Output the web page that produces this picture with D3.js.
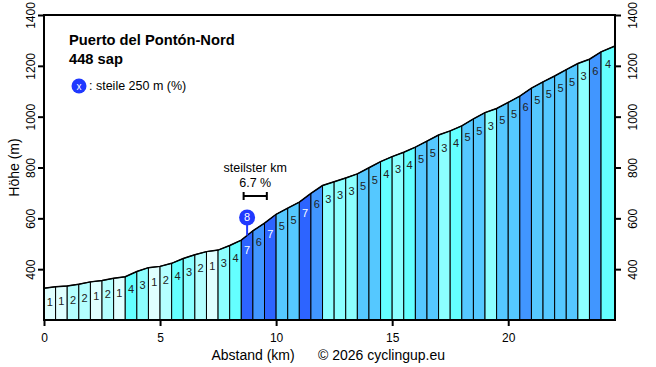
<!DOCTYPE html>
<html>
	<head>
		<meta http-equiv="Content-Type" content="text/html;charset=utf-8"/>
		<title>Puerto del Pontón-Nord</title>
		<script src="https://d3js.org/d3.v7.min.js"></script>
		<style type="text/css">
			body { margin: 0; background: #fff; }
			text { font-family: "Liberation Sans", Arial, sans-serif; }
			.tick text { font-size: 12px; }
			.title { font-size: 14.7px; font-weight: bold; }
		</style>
	</head>
	<body>
		<script type="text/javascript">

			//Distance points (km) and heights (m)
			var kms = [0, 0.5, 1, 1.5, 2, 2.5, 3, 3.5, 4, 4.5, 5, 5.5, 6, 6.5, 7, 7.5, 8, 8.5, 9, 9.5,
				10, 10.5, 11, 11.5, 12, 12.5, 13, 13.5, 14, 14.5, 15, 15.5, 16, 16.5, 17, 17.5, 18, 18.5, 19, 19.5,
				20, 20.5, 21, 21.5, 22, 22.5, 23, 23.5, 24, 24.6];
			var heights = [325, 331, 334, 341, 350, 355, 364, 370, 391, 406, 411, 423, 442, 457, 469, 475, 493, 514, 551, 581,
				616, 640, 664, 698, 729, 744, 759, 775, 799, 823, 843, 860, 880, 904, 928, 944, 964, 991, 1016, 1032,
				1056, 1081, 1112, 1137, 1160, 1185, 1209, 1226, 1255, 1278];

			//Gradient label of each 0.5 km section (%)
			var grades = [1, 1, 2, 2, 1, 2, 1, 4, 3, 1, 2, 4, 3, 2, 1, 3, 4,
				7, 6, 7, 5, 5, 7, 6, 3, 3, 3, 5, 5, 4, 3, 4,
				5, 5, 3, 4, 5, 5, 3, 5, 5, 6, 5, 5, 5, 5, 3, 6, 4];

			var xTicks = [0, 5, 10, 15, 20];
			var yTicks = [400, 600, 800, 1000, 1200, 1400];

			//Steepest km and steepest 250 m
			var steepKm = [8.6, 9.6], steepKmPct = "6.7 %";
			var steep250 = 8.75, steep250Pct = 8;

			var colors = {1: "#e0ffff", 2: "#b4ffff", 3: "#8cffff", 4: "#64ffff", 5: "#55c8ff", 6: "#4196ff", 7: "#2d64ff"};

			var w = 656, h = 367;
			var mLeft = 44, mRight = 615, mTop = 15, mBottom = 320;

			var x = d3.scaleLinear().domain([0, 24.6]).range([mLeft, mRight]);
			var y = d3.scaleLinear().domain([200, 1400]).range([mBottom, mTop]);

			var svg = d3.select("body").append("svg")
				.attr("width", w)
				.attr("height", h);

			//Sections
			var sections = grades.map(function(g, i) {
				return { g: g, x0: kms[i], x1: kms[i + 1], h0: heights[i], h1: heights[i + 1] };
			});

			svg.selectAll("path.sec")
				.data(sections)
				.enter()
				.append("path")
				.attr("class", "sec")
				.attr("fill", function(d) { return colors[d.g]; })
				.attr("stroke", "#000")
				.attr("stroke-width", 1)
				.attr("d", function(d) {
					return "M" + x(d.x0) + "," + mBottom + "L" + x(d.x0) + "," + y(d.h0) +
						"L" + x(d.x1) + "," + y(d.h1) + "L" + x(d.x1) + "," + mBottom + "Z";
				});

			svg.selectAll("text.grade")
				.data(sections)
				.enter()
				.append("text")
				.attr("class", "grade")
				.attr("x", function(d) { return x((d.x0 + d.x1) / 2); })
				.attr("y", function(d) { return y((d.h0 + d.h1) / 2) + 19; })
				.attr("text-anchor", "middle")
				.attr("font-size", "11px")
				.attr("fill", function(d) { return d.g >= 7 ? "#fff" : "#222"; })
				.text(function(d) { return d.g; });

			//Profile line
			var line = d3.line()
				.x(function(d, i) { return x(kms[i]); })
				.y(function(d) { return y(d); });

			svg.append("path")
				.attr("d", line(heights))
				.attr("fill", "none")
				.attr("stroke", "#000")
				.attr("stroke-width", 1.5);

			//Frame and axes
			svg.append("rect")
				.attr("x", mLeft).attr("y", mTop)
				.attr("width", mRight - mLeft).attr("height", mBottom - mTop)
				.attr("fill", "none").attr("stroke", "#000").attr("stroke-width", 2);

			var gx = svg.append("g")
				.attr("transform", "translate(0," + mBottom + ")")
				.call(d3.axisBottom(x).tickValues(xTicks).tickSize(6).tickPadding(7).tickFormat(d3.format("d")));

			var gl = svg.append("g")
				.attr("transform", "translate(" + mLeft + ",0)")
				.call(d3.axisLeft(y).tickValues(yTicks).tickSize(6).tickFormat(d3.format("d")));

			var gr = svg.append("g")
				.attr("transform", "translate(" + mRight + ",0)")
				.call(d3.axisRight(y).tickValues(yTicks).tickSize(6).tickFormat(d3.format("d")));

			[gx, gl, gr].forEach(function(g) {
				g.select(".domain").remove();
				g.selectAll(".tick line").attr("stroke", "#000").attr("stroke-width", 2);
				g.selectAll(".tick text").attr("fill", "#000").style("font-family", "Liberation Sans, Arial, sans-serif");
			});

			gl.selectAll(".tick text")
				.attr("x", 0).attr("y", 0).attr("dy", 0)
				.attr("text-anchor", "middle")
				.attr("dominant-baseline", "central")
				.attr("transform", "translate(-13,0) rotate(-90)");

			gr.selectAll(".tick text")
				.attr("x", 0).attr("y", 0).attr("dy", 0)
				.attr("text-anchor", "middle")
				.attr("dominant-baseline", "central")
				.attr("transform", "translate(18,0) rotate(-90)");

			//Axis titles
			svg.append("text")
				.attr("transform", "translate(14," + ((mTop + mBottom) / 2) + ") rotate(-90)")
				.attr("text-anchor", "middle")
				.attr("dominant-baseline", "central")
				.attr("font-size", "14px")
				.text("Höhe (m)");

			svg.append("text")
				.attr("x", 253).attr("y", 360)
				.attr("text-anchor", "middle")
				.attr("font-size", "14px")
				.text("Abstand (km)");

			svg.append("text")
				.attr("x", 318).attr("y", 360)
				.attr("font-size", "14px")
				.text("© 2026 cyclingup.eu");

			//Title and legend
			svg.append("text").attr("class", "title").attr("x", 69).attr("y", 45).text("Puerto del Pontón-Nord");
			svg.append("text").attr("class", "title").attr("x", 69).attr("y", 64).text("448 sap");

			svg.append("circle").attr("cx", 79).attr("cy", 86).attr("r", 7.5).attr("fill", "#2039ff");
			svg.append("text").attr("x", 79).attr("y", 86)
				.attr("text-anchor", "middle").attr("dominant-baseline", "central")
				.attr("font-size", "10px").attr("fill", "#fff").text("x");
			svg.append("text").attr("x", 89).attr("y", 90).attr("font-size", "12.5px").text(": steile 250 m (%)");

			//Steepest km marker
			var bx0 = x(steepKm[0]), bx1 = x(steepKm[1]), by = 196;
			svg.append("path")
				.attr("d", "M" + bx0 + "," + (by - 4) + "V" + (by + 4) + "M" + bx0 + "," + by + "H" + bx1 +
					"M" + bx1 + "," + (by - 4) + "V" + (by + 4))
				.attr("stroke", "#000").attr("stroke-width", 2).attr("fill", "none");
			svg.append("text").attr("x", (bx0 + bx1) / 2).attr("y", 172)
				.attr("text-anchor", "middle").attr("font-size", "12.5px").text("steilster km");
			svg.append("text").attr("x", (bx0 + bx1) / 2).attr("y", 187)
				.attr("text-anchor", "middle").attr("font-size", "12.5px").text(steepKmPct);

			//Steepest 250 m marker
			var sx = x(steep250);
			var sy = y(d3.interpolateNumber(heights[17], heights[18])((steep250 - kms[17]) / 0.5));
			svg.append("line")
				.attr("x1", sx).attr("x2", sx).attr("y1", sy).attr("y2", sy - 18)
				.attr("stroke", "#2039ff").attr("stroke-width", 2);
			svg.append("circle").attr("cx", sx).attr("cy", sy - 18).attr("r", 8).attr("fill", "#2039ff");
			svg.append("text").attr("x", sx).attr("y", sy - 18)
				.attr("text-anchor", "middle").attr("dominant-baseline", "central")
				.attr("font-size", "11px").attr("fill", "#fff").text(steep250Pct);

		</script>
	</body>
</html>
